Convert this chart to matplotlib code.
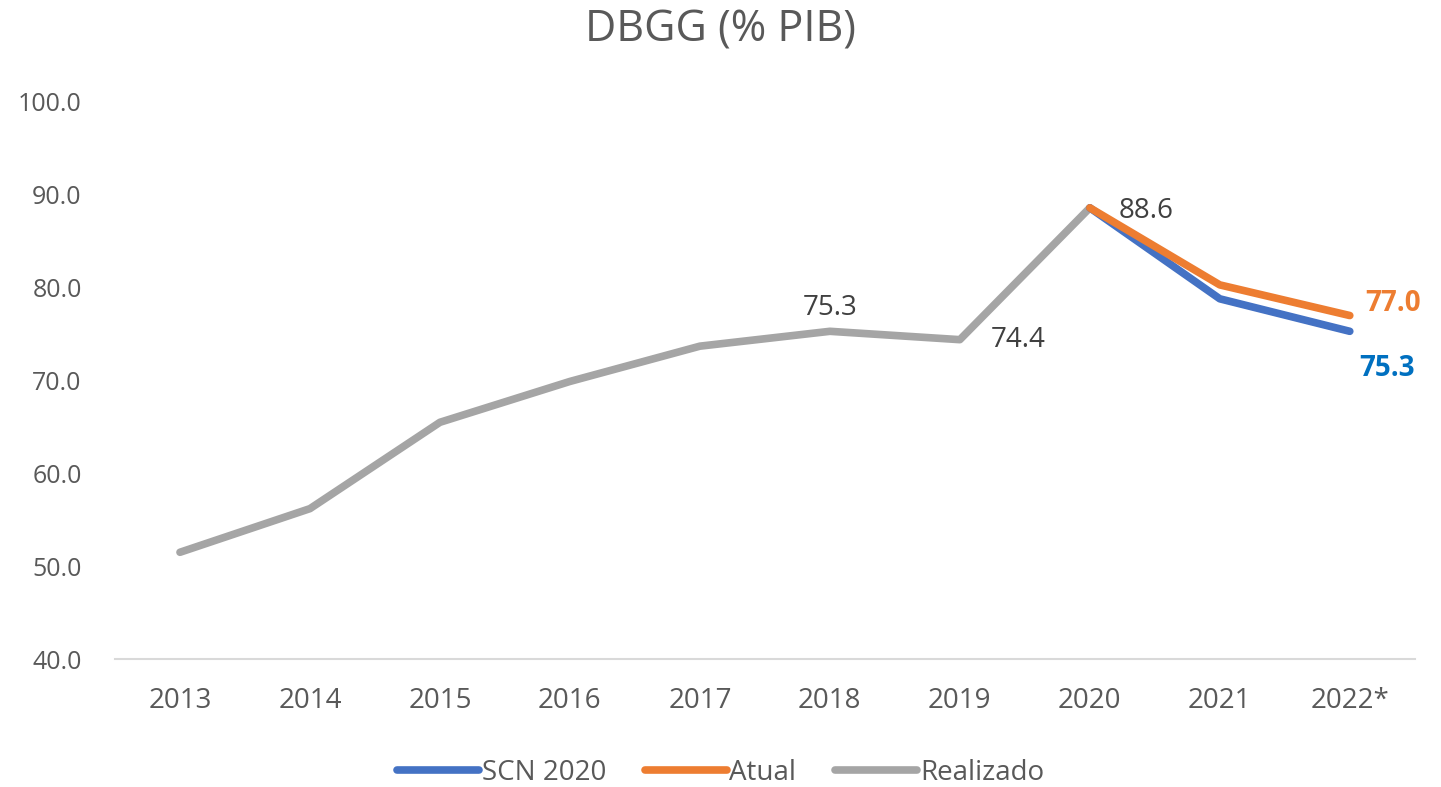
import numpy as np
import matplotlib.pyplot as plt

plt.rcParams['font.family'] = ['Open Sans', 'DejaVu Sans']

anos = ['2013', '2014', '2015', '2016', '2017', '2018', '2019', '2020', '2021', '2022*']
realizado = [51.5, 56.2, 65.5, 69.9, 73.7, 75.3, 74.4, 88.6]
atual = [88.6, 80.3, 77.0]
scn2020 = [88.6, 78.8, 75.3]

azul = '#4472C4'
laranja = '#ED7D31'
cinza = '#A5A5A5'
texto = '#595959'


def main():
    fig = plt.figure(figsize=(14.41, 7.87), dpi=100)
    ax = fig.add_axes([0.0798, 0.1626, 0.902, 0.7078])

    x = np.arange(len(anos))
    xr = x[:len(realizado)]
    xp = x[len(realizado) - 1:]

    ax.plot(xp, scn2020, color=azul, lw=5.5, solid_capstyle='round', label='SCN 2020', zorder=3)
    ax.plot(xp, atual, color=laranja, lw=5.5, solid_capstyle='round', label='Atual', zorder=4)
    ax.plot(xr, realizado, color=cinza, lw=5.5, solid_capstyle='round', label='Realizado', zorder=2)

    ax.set_xlim(-0.5, len(anos) - 0.5)
    ax.set_ylim(40, 100)
    ax.set_yticks(np.arange(40, 101, 10))
    ax.set_yticklabels([f'{v:.1f}' for v in np.arange(40, 101, 10)])
    ax.set_xticks(x)
    ax.set_xticklabels(anos)
    ax.tick_params(axis='both', length=0, colors=texto)
    ax.tick_params(axis='y', pad=24, labelsize=18)
    ax.tick_params(axis='x', pad=20, labelsize=20)

    for s in ['top', 'right', 'left']:
        ax.spines[s].set_visible(False)
    ax.spines['bottom'].set_color('#D9D9D9')
    ax.spines['bottom'].set_linewidth(1.5)

    # rotulos de dados
    cor_rot = '#404040'
    ax.annotate(f'{realizado[5]:.1f}', (xr[5], realizado[5]), xytext=(0, 7),
                textcoords='offset points', ha='center', va='bottom', fontsize=20, color=cor_rot)
    ax.annotate(f'{realizado[6]:.1f}', (xr[6], realizado[6]), xytext=(22, 0),
                textcoords='offset points', ha='left', va='center', fontsize=20, color=cor_rot)
    ax.annotate(f'{realizado[7]:.1f}', (xr[7], realizado[7]), xytext=(21, -2),
                textcoords='offset points', ha='left', va='center', fontsize=20, color=cor_rot)
    ax.annotate(f'{atual[-1]:.1f}', (xp[-1], atual[-1]), xytext=(11, 9),
                textcoords='offset points', ha='left', va='center', fontsize=20,
                color=laranja, fontweight='bold')
    ax.annotate(f'{scn2020[-1]:.1f}', (xp[-1], scn2020[-1]), xytext=(7, -27),
                textcoords='offset points', ha='left', va='center', fontsize=20,
                color='#0070C0', fontweight='bold')

    fig.text(0.5, 0.962, 'DBGG (% PIB)', ha='center', va='center', fontsize=31, color=texto)

    leg = fig.legend(loc='center', bbox_to_anchor=(0.5, 0.018), ncol=3, frameon=False,
                     fontsize=20, handlelength=2.95, handletextpad=0.1, columnspacing=1.4)
    for t in leg.get_texts():
        t.set_color(texto)

    fig.savefig('out.png', dpi=100)


if __name__ == "__main__":
    main()
